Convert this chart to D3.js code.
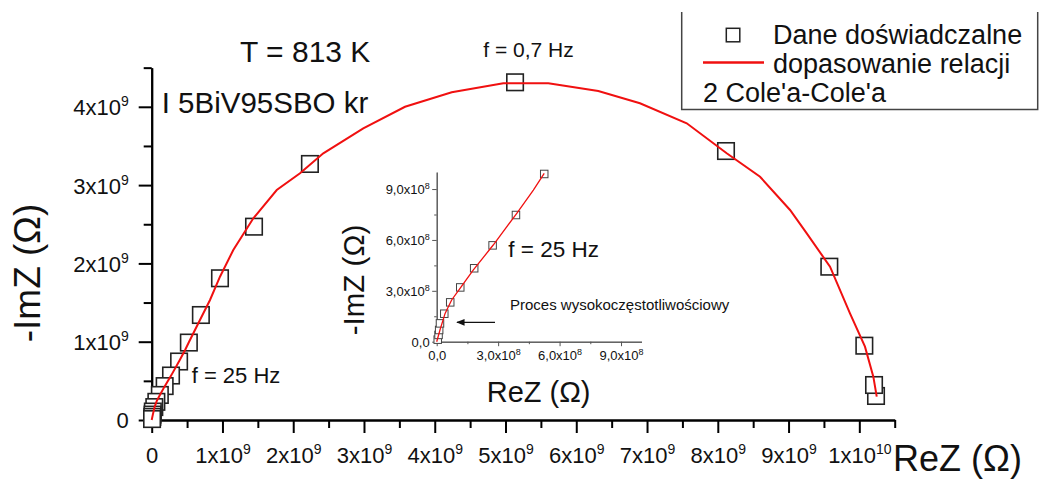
<!DOCTYPE html>
<html><head><meta charset="utf-8">
<script src="https://cdn.jsdelivr.net/npm/d3@7"></script>
<style>
body{margin:0;background:#fff}
svg{display:block}
text{font-family:"Liberation Sans",Arial,Helvetica,sans-serif;fill:#111}
</style>
</head><body><svg id="c" width="1039" height="482"></svg>
<script>
// ---------- DATA (units of 1e9 Ω) ----------
const expRe = [0.005,0.009,0.012,0.016,0.037,0.066,0.115,0.183,0.273,0.387,0.525,0.695,0.965,1.446,2.236,5.135,8.116,9.576,10.071,10.208,10.236];
const expIm = [0.012,0.040,0.069,0.108,0.165,0.232,0.320,0.433,0.568,0.747,0.989,1.341,1.810,2.469,3.270,4.313,3.435,1.958,0.949,0.447,0.307];
const fitRe = [0,0.016,0.041,0.073,0.114,0.179,0.276,0.391,0.472,0.525,0.659,0.824,0.965,1.153,1.436,1.767,2.096,2.425,2.990,3.580,4.240,4.969,5.605,6.311,6.900,7.561,8.126,8.597,9.021,9.257,9.586,9.868,10.080,10.198,10.246];
const fitIm = [0,0.069,0.167,0.246,0.315,0.423,0.570,0.757,0.894,0.993,1.235,1.533,1.830,2.171,2.576,2.937,3.151,3.406,3.725,4.000,4.185,4.300,4.300,4.202,4.045,3.789,3.406,3.107,2.682,2.384,1.958,1.363,0.936,0.553,0.298];

const mainXTicks = [0,1,2,3,4,5,6,7,8,9,10];
const mainXTickBase = ["0","1x10","2x10","3x10","4x10","5x10","6x10","7x10","8x10","9x10","1x10"];
const mainXTickExp  = ["","9","9","9","9","9","9","9","9","9","10"];
const mainYTicks = [0,1,2,3,4];
const mainYTickBase = ["0","1x10","2x10","3x10","4x10"];
const mainYTickExp  = ["","9","9","9","9"];

// inset (units of 1e8 Ω)
const insetTicks = [0,3,6,9];
const insetTickBase = ["0,0","3,0x10","6,0x10","9,0x10"];
const insetTickExp  = ["","8","8","8"];

const legendLabels = ["Dane doświadczalne","dopasowanie relacji","2 Cole'a-Cole'a"];

// ---------- DRAW ----------
const svg = d3.select("#c");
const x = d3.scaleLinear().domain([0,10.5]).range([151.7,894.7]);
const y = d3.scaleLinear().domain([0,4.5]).range([420,67.65]);

function supLabel(sel, bases, exps, supSize, supDy){
  sel.each(function(d,i){
    const t = d3.select(this); t.text(null);
    t.append("tspan").text(bases[i]);
    if (exps[i]) t.append("tspan").attr("font-size",supSize).attr("dy",supDy).text(exps[i]);
  });
}
function styleAxis(g, w, col){
  g.select(".domain").attr("stroke",col).attr("stroke-width",w);
  g.selectAll(".tick line").attr("stroke",col).attr("stroke-width",w);
}

// main minor ticks
const minorX = d3.range(0.5,10.6,1);
const minorY = d3.range(0.5,4.6,1);
const gxm = svg.append("g").attr("transform","translate(0,420)")
  .call(d3.axisBottom(x).tickValues(minorX).tickSize(8).tickSizeOuter(0).tickFormat(""));
styleAxis(gxm,2,"#000");
const gym = svg.append("g").attr("transform","translate(151.7,0)")
  .call(d3.axisLeft(y).tickValues(minorY).tickSize(8).tickSizeOuter(0).tickFormat(""));
styleAxis(gym,2,"#000");

const gx = svg.append("g").attr("transform","translate(0,420)")
  .call(d3.axisBottom(x).tickValues(mainXTicks).tickSize(13).tickSizeOuter(0));
styleAxis(gx,2,"#000");
gx.selectAll(".tick text").attr("y",43).attr("dy",0).attr("font-size",22).attr("fill","#111")
  .attr("font-family","Liberation Sans, Arial, sans-serif")
  .call(supLabel, mainXTickBase, mainXTickExp, 14, -9);

const gy = svg.append("g").attr("transform","translate(151.7,0)")
  .call(d3.axisLeft(y).tickValues(mainYTicks).tickSize(13).tickSizeOuter(0));
styleAxis(gy,2,"#000");
gy.selectAll(".tick text").attr("x",-23).attr("dy","0.36em").attr("font-size",22).attr("fill","#111")
  .attr("font-family","Liberation Sans, Arial, sans-serif")
  .call(supLabel, mainYTickBase, mainYTickExp, 14, -9);

// main squares
const pts = expRe.map((r,i)=>({re:r, im:expIm[i]}));
const S = 16.5;
svg.append("g").selectAll("rect").data(pts.slice().reverse()).join("rect")
  .attr("x",d=>x(d.re)-S/2).attr("y",d=>y(d.im)-S/2)
  .attr("width",S).attr("height",S)
  .attr("fill","#fff").attr("stroke","#222").attr("stroke-width",1.6);

// main fit line
const fit = fitRe.map((r,i)=>({re:r, im:fitIm[i]}));
svg.append("path").datum(fit)
  .attr("d", d3.line().x(d=>x(d.re)).y(d=>y(d.im)))
  .attr("fill","none").attr("stroke","#f01010").attr("stroke-width",2);

// main texts
svg.append("text").attr("x",893).attr("y",471).attr("font-size",36).text("ReZ (Ω)");
svg.append("text").attr("transform","translate(40,273) rotate(-90)").attr("text-anchor","middle")
  .attr("font-size",37).text("-ImZ (Ω)");
svg.append("text").attr("x",240).attr("y",61.7).attr("font-size",30).text("T = 813 K");
svg.append("text").attr("x",161.7).attr("y",113.3).attr("font-size",29.5).text("I 5BiV95SBO kr");
svg.append("text").attr("x",483.3).attr("y",56.7).attr("font-size",21).text("f = 0,7 Hz");
svg.append("text").attr("x",191.7).attr("y",383.3).attr("font-size",22).text("f = 25 Hz");

// ---------- INSET ----------
const xi = d3.scaleLinear().domain([0,10]).range([436.7,641.5]);
const yi = d3.scaleLinear().domain([0,10]).range([341.7,172.1]);
const insetMinor = [1.5,4.5,7.5];
const IC = "#555";
const gxim = svg.append("g").attr("transform","translate(0,341.7)")
  .call(d3.axisBottom(xi).tickValues(insetMinor).tickSize(2.5).tickSizeOuter(0).tickFormat(""));
styleAxis(gxim,1,IC);
const gyim = svg.append("g").attr("transform","translate(436.7,0)")
  .call(d3.axisLeft(yi).tickValues(insetMinor).tickSize(2.5).tickSizeOuter(0).tickFormat(""));
styleAxis(gyim,1,IC);
const gxi = svg.append("g").attr("transform","translate(0,341.7)")
  .call(d3.axisBottom(xi).tickValues(insetTicks).tickSize(4.5).tickSizeOuter(0));
styleAxis(gxi,1,IC);
gxi.selectAll(".tick text").attr("y",18.5).attr("dy",0).attr("font-size",13).attr("fill","#222")
  .attr("font-family","Liberation Sans, Arial, sans-serif")
  .call(supLabel, insetTickBase, insetTickExp, 9, -5);
const gyi = svg.append("g").attr("transform","translate(436.7,0)")
  .call(d3.axisLeft(yi).tickValues(insetTicks).tickSize(4.5).tickSizeOuter(0));
styleAxis(gyi,1,IC);
gyi.selectAll(".tick text").attr("x",-7).attr("dy","0.36em").attr("font-size",13).attr("fill","#222")
  .attr("font-family","Liberation Sans, Arial, sans-serif")
  .call(supLabel, insetTickBase, insetTickExp, 9, -5);

const ipts = pts.filter(d=>d.re<=1.0 && d.im<=1.0);
const s2 = 7.5;
svg.append("g").selectAll("rect").data(ipts).join("rect")
  .attr("x",d=>xi(d.re*10)-s2/2).attr("y",d=>yi(d.im*10)-s2/2)
  .attr("width",s2).attr("height",s2)
  .attr("fill","#fff").attr("stroke","#444").attr("stroke-width",1);
// leading part of the fit that lies within the inset window
const cut = fit.findIndex(d=>d.im>1.0);
const ifit = fit.slice(0, cut);
svg.append("path").datum(ifit)
  .attr("d", d3.line().x(d=>xi(d.re*10)).y(d=>yi(d.im*10)))
  .attr("fill","none").attr("stroke","#f01010").attr("stroke-width",1.3);

svg.append("text").attr("x",486.7).attr("y",401.7).attr("font-size",29).text("ReZ (Ω)");
svg.append("text").attr("transform","translate(363.5,280) rotate(-90)").attr("text-anchor","middle")
  .attr("font-size",29.5).text("-ImZ (Ω)");
svg.append("text").attr("x",508.3).attr("y",256.7).attr("font-size",22.5).text("f = 25 Hz");
svg.append("text").attr("x",510).attr("y",310).attr("font-size",15).text("Proces wysokoczęstotliwościowy");
svg.append("defs").append("marker").attr("id","ah").attr("viewBox","0 0 10 10")
  .attr("refX",9).attr("refY",5).attr("markerWidth",7).attr("markerHeight",7).attr("orient","auto")
  .append("path").attr("d","M0,1 L10,5 L0,9 Z").attr("fill","#111");
svg.append("line").attr("x1",495).attr("x2",457).attr("y1",322.3).attr("y2",322.3)
  .attr("stroke","#111").attr("stroke-width",1.2).attr("marker-end","url(#ah)");

// ---------- LEGEND ----------
const lg = svg.append("g");
lg.append("path").attr("d","M681.7,12 V109.5 H1037.7 V12").attr("fill","none").attr("stroke","#444").attr("stroke-width",1.5);
lg.append("rect").attr("x",726.3).attr("y",28.3).attr("width",13.5).attr("height",13.5)
  .attr("fill","#fff").attr("stroke","#222").attr("stroke-width",1.5);
lg.append("line").attr("x1",703).attr("x2",764).attr("y1",62.5).attr("y2",62.5).attr("stroke","#f01010").attr("stroke-width",2.5);
lg.selectAll("text.leg").data(legendLabels).join("text").attr("class","leg")
  .attr("x",(d,i)=>i<2?773:703).attr("y",(d,i)=>44+i*29).attr("font-size",27).text(d=>d);
</script>
</body></html>
